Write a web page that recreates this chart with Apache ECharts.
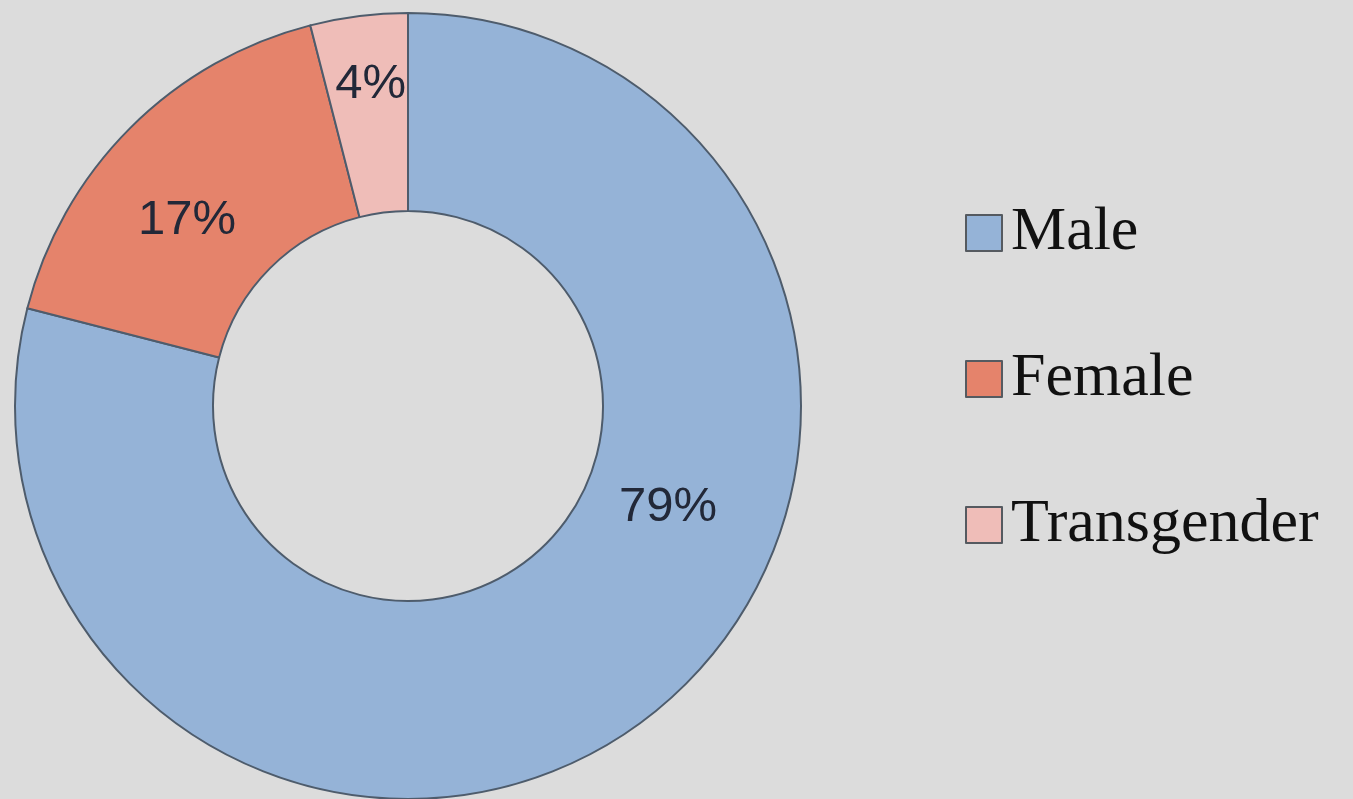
<!DOCTYPE html>
<html><head><meta charset="utf-8">
<script src="https://cdn.jsdelivr.net/npm/echarts@6/dist/echarts.min.js"></script>
<style>html,body{margin:0;padding:0;background:#dcdcdc}#c{width:1353px;height:799px}</style>
</head><body><div id="c"></div>
<script>
const categories = ['Male', 'Female', 'Transgender'];
const values = [79, 17, 4];
const colors = ['#95b3d7', '#e5836b', '#efbdb8'];
const labelOffsets = [[78, -133], [-11, 24], [0, -27]];
const legendTops = [197, 343, 489];

const chart = echarts.init(document.getElementById('c'));
const data = categories.map((n, i) => ({
  name: n, value: values[i],
  itemStyle: { color: colors[i] },
  label: { offset: labelOffsets[i] }
}));
chart.setOption({
  backgroundColor: '#dcdcdc',
  animation: false,
  legend: categories.map((n, i) => ({
    data: [n], orient: 'vertical', left: 960, top: legendTops[i],
    icon: 'rect', itemWidth: 36, itemHeight: 36,
    itemStyle: { borderColor: '#555a60', borderWidth: 2 },
    textStyle: { fontFamily: 'Liberation Serif', fontSize: 62, color: '#111', padding: [0, 0, 0, 4] }
  })),
  series: [{
    type: 'pie', center: [408, 406], radius: [195, 393],
    startAngle: 90, clockwise: true,
    itemStyle: { borderColor: '#4e5c6c', borderWidth: 2 },
    label: {
      position: 'inside', formatter: '{c}%',
      fontFamily: 'Liberation Sans', fontSize: 49, color: '#222838'
    },
    labelLine: { show: false },
    emphasis: { disabled: true },
    data: data
  }]
});
</script></body></html>
